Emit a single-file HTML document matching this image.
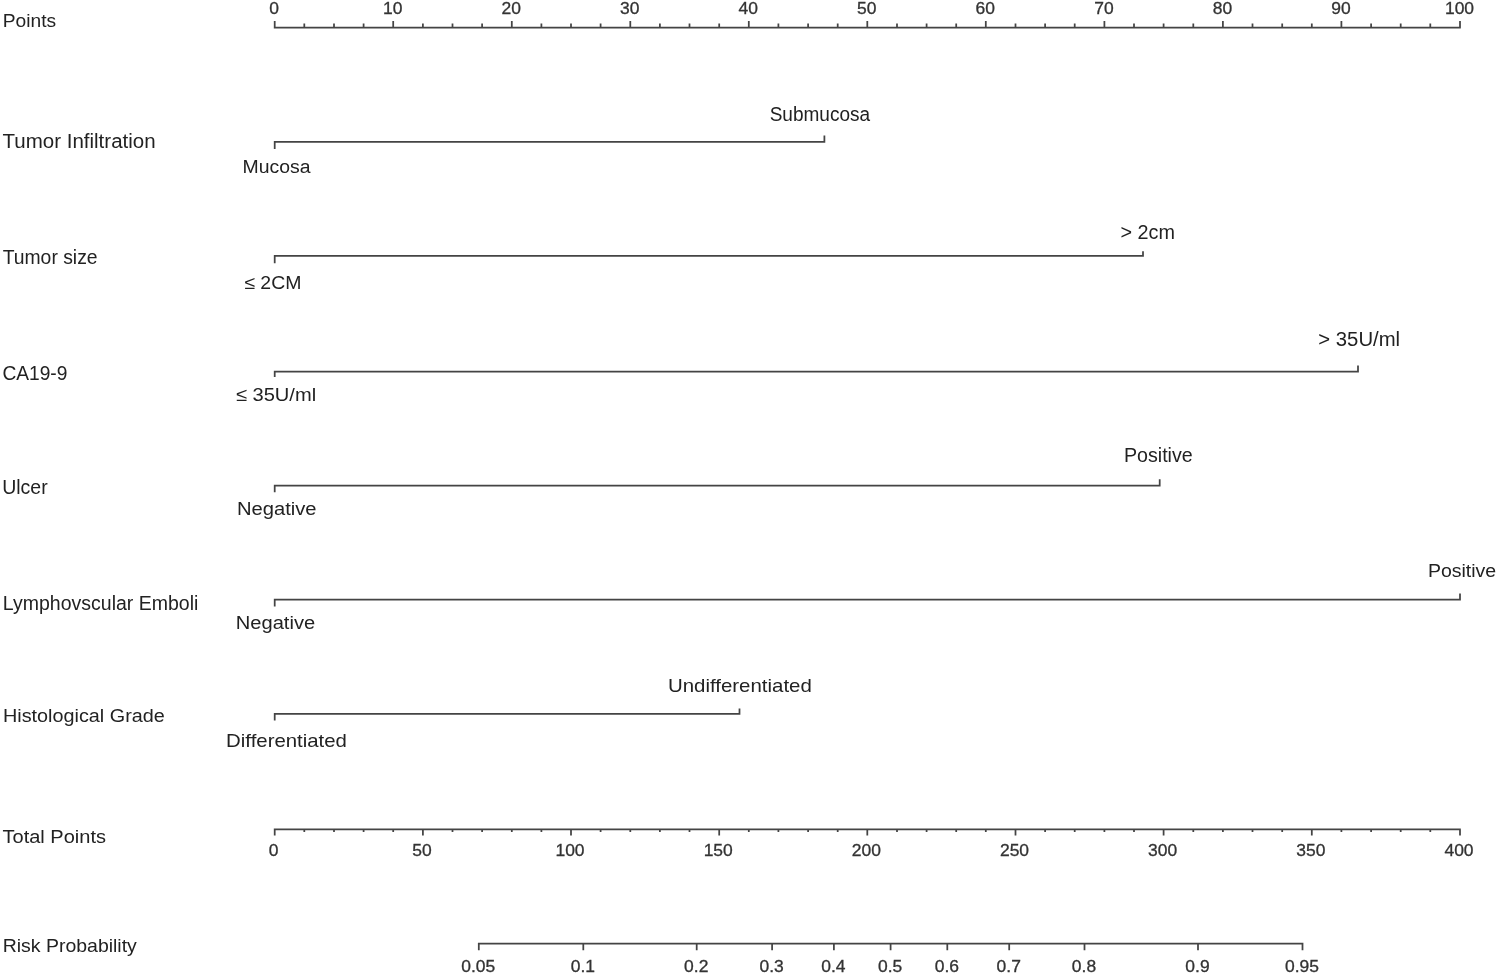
<!DOCTYPE html>
<html lang="en"><head><meta charset="utf-8"><title>Nomogram</title>
<style>html,body{margin:0;padding:0;background:#fff;}body{width:1498px;height:974px;overflow:hidden;position:relative;}svg{position:absolute;left:0;top:0;display:block;}text{font-family:"Liberation Sans",sans-serif;fill:#222;}.lab{font-size:19.8px;}.cat{font-size:18.9px;}.num{font-size:16.4px;text-anchor:middle;fill:#333;stroke:#333;stroke-width:0.3px;}line,path{stroke:#444;stroke-width:1.75;fill:none;stroke-linecap:butt;}</style></head><body>
<svg width="1498" height="974" viewBox="0 0 1498 974">
<text class="lab" style="font-size:18.7px" x="2.74" y="26.8" textLength="53.37" lengthAdjust="spacingAndGlyphs">Points</text>
<text class="lab" style="font-size:19.5px" x="2.50" y="148.4" textLength="153.12" lengthAdjust="spacingAndGlyphs">Tumor Infiltration</text>
<text class="lab" style="font-size:19.5px" x="2.66" y="263.9" textLength="94.94" lengthAdjust="spacingAndGlyphs">Tumor size</text>
<text class="lab" style="font-size:19.8px" x="2.39" y="379.5" textLength="65.03" lengthAdjust="spacingAndGlyphs">CA19-9</text>
<text class="lab" style="font-size:19.8px" x="2.18" y="493.7" textLength="45.50" lengthAdjust="spacingAndGlyphs">Ulcer</text>
<text class="lab" style="font-size:19.4px" x="2.88" y="610.2" textLength="195.47" lengthAdjust="spacingAndGlyphs">Lymphovscular Emboli</text>
<text class="lab" style="font-size:19.1px" x="3.02" y="721.8" textLength="161.77" lengthAdjust="spacingAndGlyphs">Histological Grade</text>
<text class="lab" style="font-size:18.9px" x="2.50" y="843.1" textLength="103.46" lengthAdjust="spacingAndGlyphs">Total Points</text>
<text class="lab" style="font-size:18.6px" x="2.73" y="952.0" textLength="134.09" lengthAdjust="spacingAndGlyphs">Risk Probability</text>
<path d="M273.8 27.7H1460.8M274.7 27.7V20.9M304.3 27.7V23.4M334.0 27.7V23.4M363.6 27.7V23.4M393.2 27.7V20.9M422.9 27.7V23.4M452.5 27.7V23.4M482.1 27.7V23.4M511.8 27.7V20.9M541.4 27.7V23.4M571.0 27.7V23.4M600.6 27.7V23.4M630.3 27.7V20.9M659.9 27.7V23.4M689.5 27.7V23.4M719.2 27.7V23.4M748.8 27.7V20.9M778.4 27.7V23.4M808.1 27.7V23.4M837.7 27.7V23.4M867.3 27.7V20.9M897.0 27.7V23.4M926.6 27.7V23.4M956.2 27.7V23.4M985.8 27.7V20.9M1015.5 27.7V23.4M1045.1 27.7V23.4M1074.7 27.7V23.4M1104.4 27.7V20.9M1134.0 27.7V23.4M1163.6 27.7V23.4M1193.3 27.7V23.4M1222.9 27.7V20.9M1252.5 27.7V23.4M1282.2 27.7V23.4M1311.8 27.7V23.4M1341.4 27.7V20.9M1371.1 27.7V23.4M1400.7 27.7V23.4M1430.3 27.7V23.4M1460.0 27.7V20.9"/>
<text class="num" transform="translate(274.2 13.8) scale(1.065 1)">0</text>
<text class="num" transform="translate(392.7 13.8) scale(1.065 1)">10</text>
<text class="num" transform="translate(511.2 13.8) scale(1.065 1)">20</text>
<text class="num" transform="translate(629.8 13.8) scale(1.065 1)">30</text>
<text class="num" transform="translate(748.3 13.8) scale(1.065 1)">40</text>
<text class="num" transform="translate(866.8 13.8) scale(1.065 1)">50</text>
<text class="num" transform="translate(985.3 13.8) scale(1.065 1)">60</text>
<text class="num" transform="translate(1103.9 13.8) scale(1.065 1)">70</text>
<text class="num" transform="translate(1222.4 13.8) scale(1.065 1)">80</text>
<text class="num" transform="translate(1340.9 13.8) scale(1.065 1)">90</text>
<text class="num" transform="translate(1459.5 13.8) scale(1.065 1)">100</text>
<path d="M274.7 149.1V141.9H824.4V135.6"/>
<text class="cat" style="font-size:19.2px" x="242.50" y="173.0" textLength="67.96" lengthAdjust="spacingAndGlyphs">Mucosa</text>
<text class="cat" style="font-size:20.0px" x="769.66" y="121.0" textLength="100.49" lengthAdjust="spacingAndGlyphs">Submucosa</text>
<path d="M274.7 263.3V255.8H1143.0V251.2"/>
<text class="cat" style="font-size:18.5px" x="244.30" y="289.2" textLength="57.13" lengthAdjust="spacingAndGlyphs">≤ 2CM</text>
<text class="cat" style="font-size:19.8px" x="1120.57" y="238.9" textLength="54.40" lengthAdjust="spacingAndGlyphs">&gt; 2cm</text>
<path d="M274.7 377.1V371.7H1358.0V365.4"/>
<text class="cat" style="font-size:18.9px" x="235.91" y="400.9" textLength="80.22" lengthAdjust="spacingAndGlyphs">≤ 35U/ml</text>
<text class="cat" style="font-size:20.0px" x="1318.34" y="346.4" textLength="81.81" lengthAdjust="spacingAndGlyphs">&gt; 35U/ml</text>
<path d="M274.7 492.3V485.5H1159.7V479.2"/>
<text class="cat" style="font-size:18.3px" x="236.95" y="515.2" textLength="79.62" lengthAdjust="spacingAndGlyphs">Negative</text>
<text class="cat" style="font-size:19.6px" x="1123.94" y="461.6" textLength="68.75" lengthAdjust="spacingAndGlyphs">Positive</text>
<path d="M274.7 606.6V599.7H1460.0V593.4"/>
<text class="cat" style="font-size:18.3px" x="235.75" y="628.8" textLength="79.42" lengthAdjust="spacingAndGlyphs">Negative</text>
<text class="cat" style="font-size:18.9px" x="1427.95" y="577.1" textLength="68.27" lengthAdjust="spacingAndGlyphs">Positive</text>
<path d="M274.7 720.6V713.8H739.5V708.4"/>
<text class="cat" style="font-size:18.5px" x="226.13" y="746.9" textLength="120.76" lengthAdjust="spacingAndGlyphs">Differentiated</text>
<text class="cat" style="font-size:18.4px" x="667.96" y="692.1" textLength="143.88" lengthAdjust="spacingAndGlyphs">Undifferentiated</text>
<path d="M273.8 829.4H1460.8M274.7 829.4V835.6M304.3 829.4V832.1M334.0 829.4V832.1M363.6 829.4V832.1M393.2 829.4V832.1M422.9 829.4V835.6M452.5 829.4V832.1M482.1 829.4V832.1M511.8 829.4V832.1M541.4 829.4V832.1M571.0 829.4V835.6M600.6 829.4V832.1M630.3 829.4V832.1M659.9 829.4V832.1M689.5 829.4V832.1M719.2 829.4V835.6M748.8 829.4V832.1M778.4 829.4V832.1M808.1 829.4V832.1M837.7 829.4V832.1M867.3 829.4V835.6M897.0 829.4V832.1M926.6 829.4V832.1M956.2 829.4V832.1M985.8 829.4V832.1M1015.5 829.4V835.6M1045.1 829.4V832.1M1074.7 829.4V832.1M1104.4 829.4V832.1M1134.0 829.4V832.1M1163.6 829.4V835.6M1193.3 829.4V832.1M1222.9 829.4V832.1M1252.5 829.4V832.1M1282.2 829.4V832.1M1311.8 829.4V835.6M1341.4 829.4V832.1M1371.1 829.4V832.1M1400.7 829.4V832.1M1430.3 829.4V832.1M1460.0 829.4V835.6"/>
<text class="num" transform="translate(273.7 855.9) scale(1.065 1)">0</text>
<text class="num" transform="translate(421.9 855.9) scale(1.065 1)">50</text>
<text class="num" transform="translate(570.0 855.9) scale(1.065 1)">100</text>
<text class="num" transform="translate(718.2 855.9) scale(1.065 1)">150</text>
<text class="num" transform="translate(866.3 855.9) scale(1.065 1)">200</text>
<text class="num" transform="translate(1014.5 855.9) scale(1.065 1)">250</text>
<text class="num" transform="translate(1162.6 855.9) scale(1.065 1)">300</text>
<text class="num" transform="translate(1310.8 855.9) scale(1.065 1)">350</text>
<text class="num" transform="translate(1459.0 855.9) scale(1.065 1)">400</text>
<path d="M477.9 943.5H1303.4M478.8 943.5V950.2M583.3 943.5V950.2M696.7 943.5V950.2M772.1 943.5V950.2M833.9 943.5V950.2M890.6 943.5V950.2M947.3 943.5V950.2M1009.2 943.5V950.2M1084.5 943.5V950.2M1198.0 943.5V950.2M1302.5 943.5V950.2"/>
<text class="num" transform="translate(478.3 971.5) scale(1.065 1)">0.05</text>
<text class="num" transform="translate(582.8 971.5) scale(1.065 1)">0.1</text>
<text class="num" transform="translate(696.2 971.5) scale(1.065 1)">0.2</text>
<text class="num" transform="translate(771.6 971.5) scale(1.065 1)">0.3</text>
<text class="num" transform="translate(833.4 971.5) scale(1.065 1)">0.4</text>
<text class="num" transform="translate(890.1 971.5) scale(1.065 1)">0.5</text>
<text class="num" transform="translate(946.8 971.5) scale(1.065 1)">0.6</text>
<text class="num" transform="translate(1008.7 971.5) scale(1.065 1)">0.7</text>
<text class="num" transform="translate(1084.0 971.5) scale(1.065 1)">0.8</text>
<text class="num" transform="translate(1197.5 971.5) scale(1.065 1)">0.9</text>
<text class="num" transform="translate(1302.0 971.5) scale(1.065 1)">0.95</text>
</svg></body></html>
